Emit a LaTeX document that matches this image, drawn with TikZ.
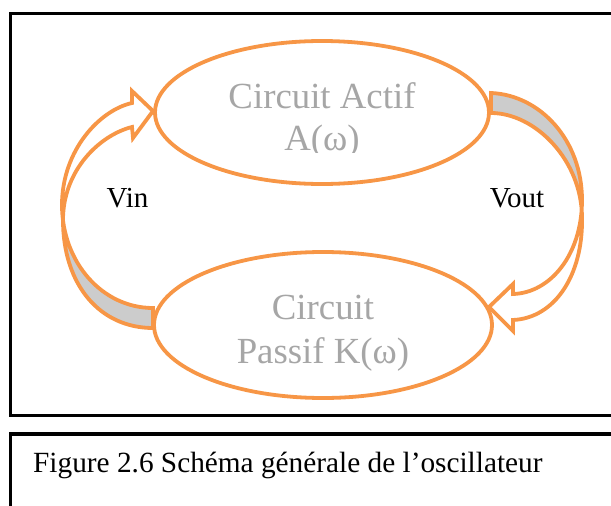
\documentclass[tikz,border=0pt]{standalone}
\usepackage{fontspec}
\setmainfont{Liberation Serif}
\usetikzlibrary{shapes.geometric}
\definecolor{orng}{RGB}{247,150,70}
\definecolor{backgray}{RGB}{204,204,204}
\definecolor{txtgray}{RGB}{166,166,166}
\begin{document}
\begin{tikzpicture}[x=1pt,y=-1pt,
  blob/.style={ellipse, draw=orng, line width=3.8pt, fill=white, inner sep=0pt},
  arr/.style={draw=orng, line width=3.8pt, line join=miter},
  backface/.style={fill=backgray},
  big/.style={font=\fontsize{36.8}{43}\selectfont, text=txtgray, anchor=base, inner sep=0pt},
  lab/.style={font=\fontsize{29}{33}\selectfont, anchor=base, inner sep=0pt},
  capt/.style={font=\fontsize{29.3}{33}\selectfont, anchor=base west, inner sep=0pt},
  frame/.style={draw=black, line width=3.5pt}]
\path[use as bounding box] (0,0) rectangle (611,506);
\clip (0,0) rectangle (611,506);
% frames
\draw[frame] (10.5,13.5) rectangle (640,415.5);
\draw[frame] (10.5,434) rectangle (640,540);
% ellipses
\node[blob, minimum width=334pt, minimum height=143pt] (actif) at (322,112.5) {};
\node[blob, minimum width=338pt, minimum height=146pt] (passif) at (323,325) {};
% back faces (grey)
\path[backface] (62,205) .. controls (62,262) and (102,308) .. (153,308)
  -- (153,328) .. controls (100,328) and (63,285) .. (63,220) -- cycle;
\path[backface] (491,93) .. controls (540,95) and (582,140) .. (582,200)
  -- (582,218) .. controls (582,160) and (535,113) .. (491,113) -- cycle;
% left curved arrow (Vin)
\draw[arr] (153,308) -- (153,328)
  .. controls (100,328) and (63,285) .. (63,220)
  .. controls (63,170) and (100,135) .. (132,127)
  -- (133,138) -- (153,111) -- (132,91) -- (132,103)
  .. controls (100,110) and (62,150) .. (62,205)
  .. controls (62,262) and (102,308) .. cycle;
% right curved arrow (Vout)
\draw[arr] (491,93) -- (491,113)
  .. controls (535,113) and (582,160) .. (582,218)
  .. controls (583,275) and (555,318) .. (513,320)
  -- (513,331) -- (489,307) -- (513,284) -- (513,294)
  .. controls (550,293) and (582,255) .. (582,200)
  .. controls (582,140) and (540,95) .. cycle;
% texts
\node[big] (ta1) at (322,108) {Circuit Actif};
\begin{scope}
  \clip (150,40) rectangle (500,152.5);
  \node[big] (ta2) at (322,150) {A(ω)};
\end{scope}
\node[big] (tp1) at (323,319) {Circuit};
\node[big] (tp2) at (323,363) {Passif K(ω)};
\node[lab] (vin) at (127.5,207) {Vin};
\node[lab] (vout) at (517,207) {Vout};
\node[capt] (cap) at (33,472) {Figure 2.6 Schéma générale de l’oscillateur};
\end{tikzpicture}
\end{document}
